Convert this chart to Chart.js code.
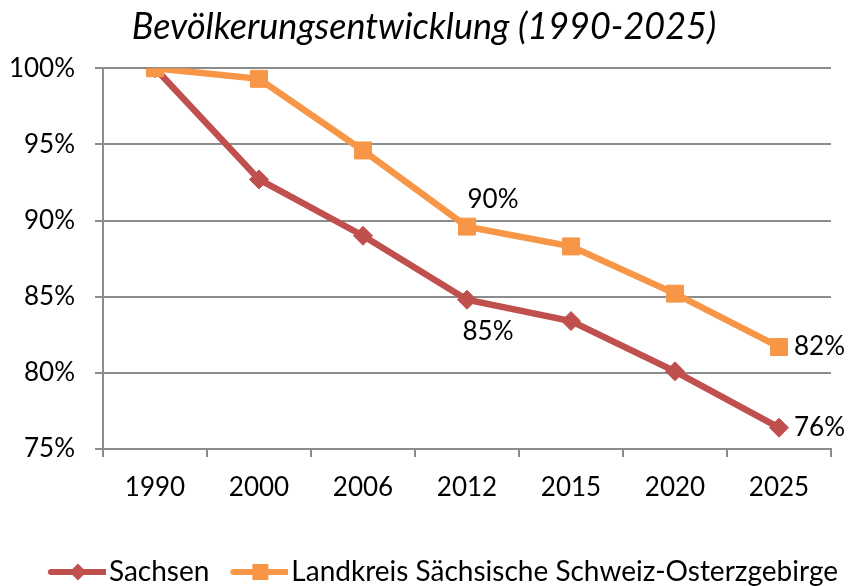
<!DOCTYPE html>
<html><head><meta charset="utf-8">
<script src="https://cdn.jsdelivr.net/npm/chart.js@4/dist/chart.umd.min.js"></script>
<style>html,body{margin:0;padding:0;background:#fff}#wrap{width:848px;height:586px}</style>
</head><body><div id="wrap"><canvas id="c" width="848" height="586"></canvas></div>
<script>
const chartTitle = 'Bevölkerungsentwicklung (1990-2025)';
const categories = ['1990', '2000', '2006', '2012', '2015', '2020', '2025'];
const seriesNames = ['Sachsen', 'Landkreis Sächsische Schweiz-Osterzgebirge'];
const sachsenValues = [100, 92.7, 89.0, 84.8, 83.4, 80.1, 76.4];
const landkreisValues = [100, 99.3, 94.6, 89.6, 88.3, 85.2, 81.7];
const yTickValues = [75, 80, 85, 90, 95, 100];
const labelledIndices = [3, 6];

const RED = '#C0504D', ORANGE = '#F79646', GRID = '#8c8c8c', FONT = 'Lato';

function legendImage(color, marker) {
  const c = document.createElement('canvas');
  c.width = 80; c.height = 22;
  const g = c.getContext('2d');
  g.strokeStyle = color; g.fillStyle = color; g.lineWidth = 6; g.lineCap = 'round';
  g.beginPath(); g.moveTo(25, 11); g.lineTo(79, 11); g.stroke();
  const cx = 52;
  if (marker === 'diamond') {
    g.beginPath(); g.moveTo(cx, 2.5); g.lineTo(cx + 8.5, 11); g.lineTo(cx, 19.5); g.lineTo(cx - 8.5, 11); g.closePath(); g.fill();
  } else {
    g.fillRect(cx - 8, 3, 16, 16);
  }
  return c;
}

const dataLabels = {
  id: 'dataLabels',
  afterDatasetsDraw(chart) {
    const ctx = chart.ctx;
    ctx.save();
    ctx.font = '26px ' + FONT;
    ctx.fillStyle = '#000';
    ctx.textBaseline = 'middle';
    chart.data.datasets.forEach((ds, di) => {
      const meta = chart.getDatasetMeta(di);
      labelledIndices.forEach(i => {
        const p = meta.data[i];
        const txt = Math.round(ds.data[i]) + '%';
        let x = p.x, y = p.y;
        if (i === categories.length - 1) {
          ctx.textAlign = 'left'; x += 15;
        } else {
          ctx.textAlign = 'center';
          if (di === 1) { x += 26; y -= 27; } else { x += 21; y += 32; }
        }
        ctx.fillText(txt, x, y);
      });
    });
    ctx.restore();
  }
};

function build() {
  const legendImgs = [legendImage(RED, 'diamond'), legendImage(ORANGE, 'square')];
  new Chart(document.getElementById('c'), {
    type: 'line',
    data: {
      labels: categories,
      datasets: [
        { label: seriesNames[0], data: sachsenValues, borderColor: RED, backgroundColor: RED, order: 1,
          borderWidth: 6.5, pointStyle: 'rectRot', pointRadius: 9.5, pointBorderWidth: 1,
          pointBackgroundColor: RED, pointBorderColor: RED, tension: 0, yAxisID: 'y' },
        { label: seriesNames[1], data: landkreisValues, borderColor: ORANGE, backgroundColor: ORANGE, order: 0,
          borderWidth: 6.5, pointStyle: 'rect', pointRadius: 12, pointBorderWidth: 1,
          pointBackgroundColor: ORANGE, pointBorderColor: ORANGE, tension: 0, yAxisID: 'y' }
      ]
    },
    options: {
      responsive: false, animation: false, devicePixelRatio: 1,
      layout: { padding: { left: 0, right: 0, top: 0, bottom: 0 } },
      plugins: {
        title: { display: true, text: chartTitle, color: '#000',
          font: { family: FONT, size: 36, style: 'italic', weight: 'normal', lineHeight: 1.2 },
          padding: { top: 6, bottom: 19 } },
        legend: { position: 'bottom', align: 'end', maxHeight: 38,
          labels: { usePointStyle: true, pointStyleWidth: 58, padding: 10, color: '#000',
            font: { family: FONT, size: 28 },
            generateLabels(chart) {
              const items = Chart.defaults.plugins.legend.labels.generateLabels(chart);
              items.sort((a, b) => a.datasetIndex - b.datasetIndex);
              items.forEach(it => { it.pointStyle = legendImgs[it.datasetIndex]; });
              return items;
            } } },
        tooltip: { enabled: false }
      },
      scales: {
        x: { type: 'category', offset: true,
          grid: { display: true, drawOnChartArea: false, drawTicks: true, tickLength: 8, offset: true, color: GRID, lineWidth: 2 },
          border: { display: true, color: GRID, width: 2 },
          ticks: { color: '#000', font: { family: FONT, size: 26 }, padding: 15, maxRotation: 0 },
          afterFit(s) { s.height = 99; } },
        y: { type: 'linear', position: 'left', min: 75, max: 100,
          afterBuildTicks(s) { s.ticks = yTickValues.map(v => ({ value: v })); },
          grid: { color: GRID, lineWidth: 2, tickLength: 8, drawTicks: true },
          border: { display: true, color: GRID, width: 2 },
          ticks: { color: '#000', font: { family: FONT, size: 26 }, padding: 20, callback: v => v + '%' },
          afterFit(s) { s.width = 103; } },
        yR: { type: 'linear', position: 'right', min: 0, max: 1, display: true,
          grid: { display: false, drawTicks: false }, border: { display: false },
          ticks: { display: false },
          afterFit(s) { s.width = 17; } }
      }
    },
    plugins: [dataLabels]
  });
}
Promise.all([
  document.fonts.load('26px Lato'), document.fonts.load('italic 36px Lato')
]).then(build, build);
</script>
</body></html>
